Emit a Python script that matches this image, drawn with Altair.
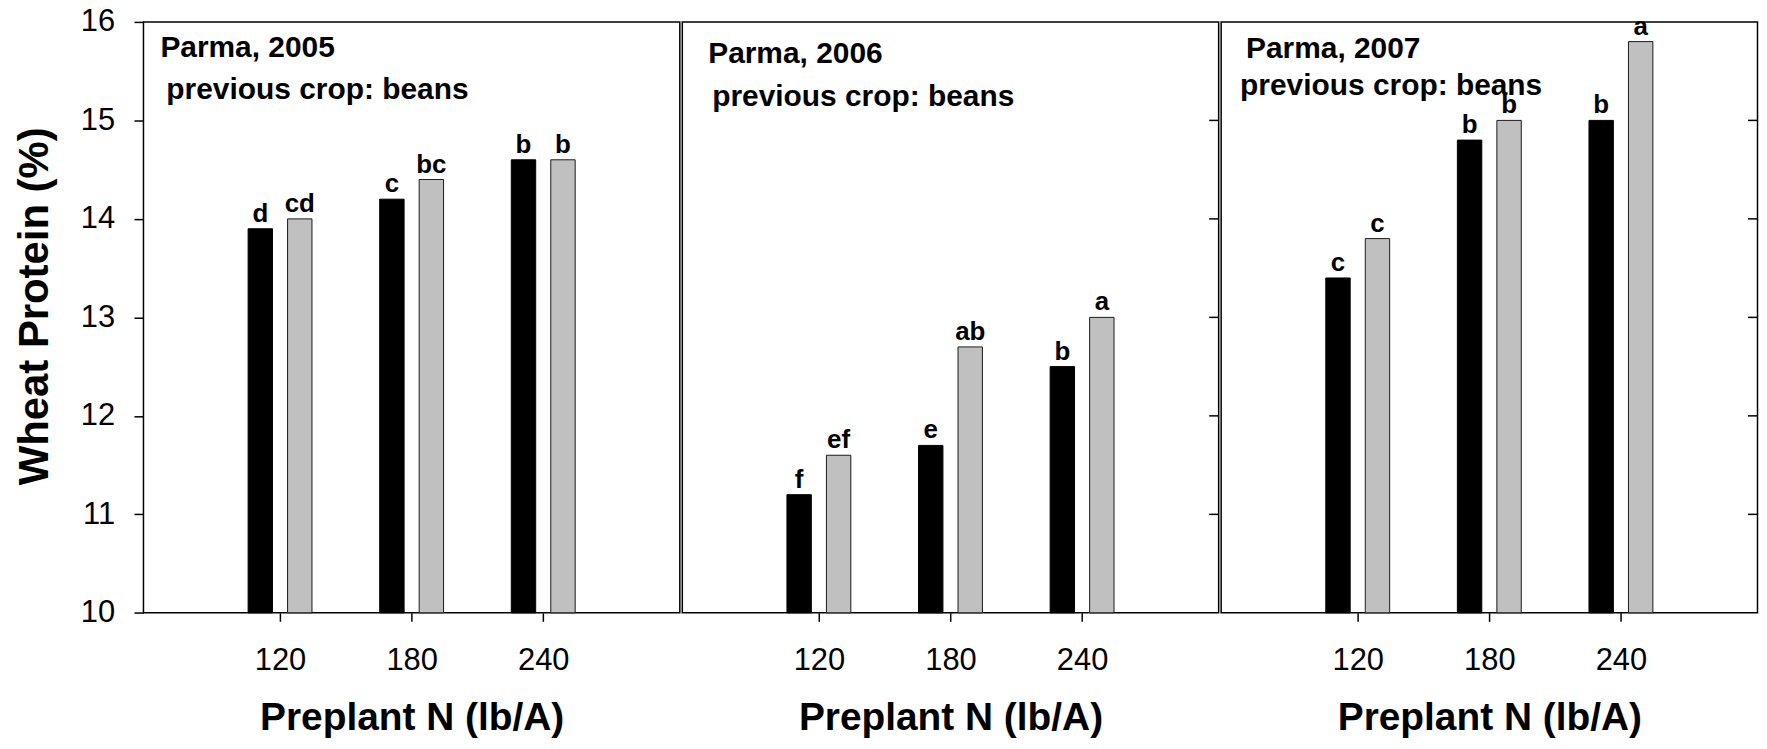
import altair as alt
import pandas as pd

# ---------------- data ----------------
years = ["2005", "2006", "2007"]
n_rates = [120, 180, 240]
series_names = ["black", "grey"]

black_2005 = [13.9, 14.2, 14.6]
grey_2005 = [14.0, 14.4, 14.6]
black_2006 = [11.2, 11.7, 12.5]
grey_2006 = [11.6, 12.7, 13.0]
black_2007 = [13.4, 14.8, 15.0]
grey_2007 = [13.8, 15.0, 15.8]

black_letters_2005 = ["d", "c", "b"]
grey_letters_2005 = ["cd", "bc", "b"]
black_letters_2006 = ["f", "e", "b"]
grey_letters_2006 = ["ef", "ab", "a"]
black_letters_2007 = ["c", "b", "b"]
grey_letters_2007 = ["c", "b", "a"]

panel_titles = ["Parma, 2005", "Parma, 2006", "Parma, 2007"]
subtitle = "previous crop: beans"
y_ticks = [10, 11, 12, 13, 14, 15, 16]
x_ticks = [120, 180, 240]
y_title = "Wheat Protein (%)"
x_title = "Preplant N (lb/A)"

values = {
    "2005": (black_2005, grey_2005, black_letters_2005, grey_letters_2005),
    "2006": (black_2006, grey_2006, black_letters_2006, grey_letters_2006),
    "2007": (black_2007, grey_2007, black_letters_2007, grey_letters_2007),
}

# ---------------- style ----------------
FONT = "Liberation Sans"
W = 538.5
H = 593.3
# annotation placement (pixels inside each panel): (title x, title y, sub x, sub y)
ann_pos = [(17, 35, 23, 77), (26, 41, 30, 84), (25, 36, 19, 73)]


def yscale():
    return alt.Scale(domain=[10, 16], nice=False, zero=False)


def xscale():
    return alt.Scale(domain=[60, 300], nice=False, zero=False)


def make_panel(i):
    yr = years[i]
    b, g, bl, gl = values[yr]
    rows = []
    for k, n in enumerate(n_rates):
        rows.append({"N": n, "series": "black", "value": b[k], "letter": bl[k]})
        rows.append({"N": n, "series": "grey", "value": g[k], "letter": gl[k]})
    df = pd.DataFrame(rows)

    x_axis = alt.Axis(values=x_ticks, tickSize=8.5, tickWidth=1.5, tickColor="black",
                      labelFontSize=31, labelFont=FONT, labelColor="black", labelPadding=24,
                      title=x_title, titleFont=FONT, titleFontSize=39, titleFontWeight="bold",
                      titleColor="black", titlePadding=24, domain=False, grid=False)
    if i == 0:
        y_axis = alt.Axis(values=y_ticks, format="d", tickSize=9.5, tickWidth=1.5, tickColor="black",
                          labelFontSize=31, labelFont=FONT, labelColor="black", labelPadding=19.5,
                          title=y_title, titleFont=FONT, titleFontSize=42, titleFontWeight="bold",
                          titleColor="black", titlePadding=24, titleY=285, domain=False, grid=False)
    else:
        y_axis = None

    base = alt.Chart(df).transform_calculate(
        pos="datum.N + (datum.series == 'black' ? -9 : 9)",
        floor="10",
    )
    bars = base.mark_bar(width=24.5, strokeWidth=1).encode(
        x=alt.X("pos:Q", scale=xscale(), axis=x_axis),
        y=alt.Y("value:Q", scale=yscale(), axis=y_axis),
        y2=alt.Y2("floor:Q"),
        color=alt.Color("series:N", scale=alt.Scale(domain=series_names, range=["#000000", "#c0c0c0"]), legend=None),
        stroke=alt.Stroke("series:N", scale=alt.Scale(domain=series_names, range=["#000000", "#1a1a1a"]), legend=None),
    )
    letters = base.mark_text(font=FONT, fontSize=26, fontWeight="bold", baseline="alphabetic",
                             dy=-7, color="black").encode(
        x=alt.X("pos:Q"),
        y=alt.Y("value:Q"),
        text="letter:N",
    )
    tx, ty, sx, sy = ann_pos[i]
    ann1 = alt.Chart(pd.DataFrame({"t": [panel_titles[i]]})).mark_text(
        font=FONT, fontSize=30, fontWeight="bold", align="left", baseline="alphabetic", color="black"
    ).encode(x=alt.value(tx), y=alt.value(ty), text="t:N")
    ann2 = alt.Chart(pd.DataFrame({"t": [subtitle]})).mark_text(
        font=FONT, fontSize=30, fontWeight="bold", align="left", baseline="alphabetic", color="black"
    ).encode(x=alt.value(sx), y=alt.value(sy), text="t:N")

    layers = [bars, letters, ann1, ann2]
    if i > 0:
        rt = alt.Chart(pd.DataFrame({"v": y_ticks[1:-1]})).mark_rule(color="black", strokeWidth=1.5).encode(
            y=alt.Y("v:Q"),
            x=alt.value(W - 9.5),
            x2=alt.value(W),
        )
        layers.append(rt)
    return alt.layer(*layers).properties(width=W, height=H)


chart = alt.hconcat(*[make_panel(i) for i in range(3)], spacing=0).properties(
    padding={"left": 4, "top": -4.5, "right": 0, "bottom": 0}
).configure_view(stroke="black", strokeWidth=1.5)

chart.save("out.html", embed_options={"renderer": "svg", "actions": False})
